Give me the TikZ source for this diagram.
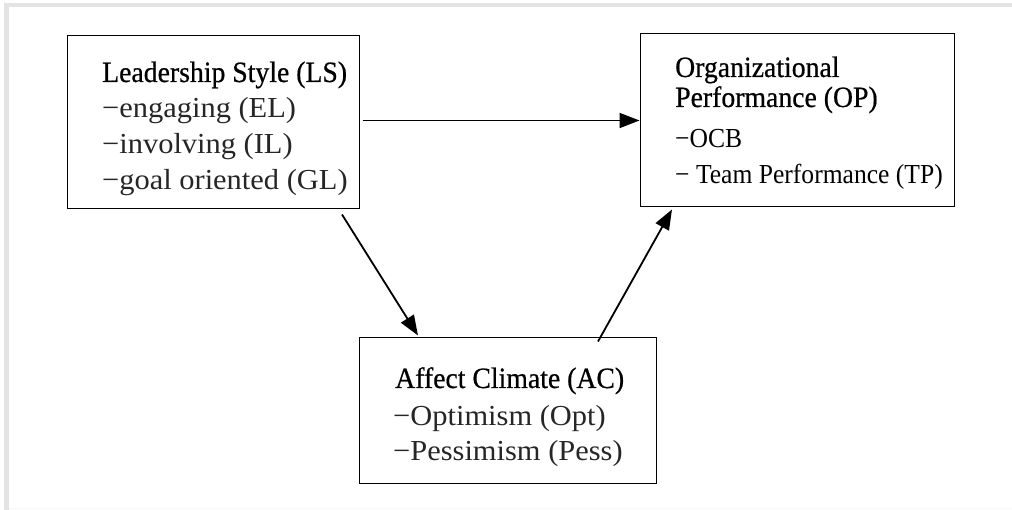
\documentclass[tikz,border=0pt]{standalone}
\usepackage{fontspec}
\setmainfont{Liberation Serif}
\newfontfamily\headfont[FakeBold=0.6,FakeStretch=0.94]{Liberation Serif}
\newfontfamily\itemfont[FakeStretch=1.05]{Liberation Serif}
\newfontfamily\narrowfont[FakeStretch=0.93]{Liberation Serif}
\usetikzlibrary{arrows.meta}

\begin{document}
\begin{tikzpicture}[x=1pt,y=-1pt,
  every node/.style={font=\fontsize{27}{30}\selectfont},
  box/.style={draw,line width=1pt,inner sep=0pt},
  txt/.style={anchor=base west,inner sep=0pt,font=\fontsize{29.5}{32}\headfont},
  itm/.style={anchor=base west,inner sep=0pt,text=black!85,font=\fontsize{29}{32}\itemfont},
  sub/.style={anchor=base west,inner sep=0pt,font=\fontsize{27.5}{30}\narrowfont},
  link/.style={line width=1.8pt,-{Triangle[length=20pt,width=15pt]}},
]
\useasboundingbox (0,0) rectangle (1012,510);

%% page frame
\fill[gray!22] (4,3) rectangle (1012,7);
\fill[gray!22] (4,3) rectangle (9,510);
\draw[gray!8,line width=1.5pt] (9,508.5) -- (1012,508.5);

%% boxes
\node[box,minimum width=292pt,minimum height=173pt] (ls) at (213,122.5) {};
\node[box,minimum width=314pt,minimum height=173pt] (op) at (797,120.5) {};
\node[box,minimum width=297pt,minimum height=145pt] (ac) at (507.5,410.5) {};

%% Leadership Style
\node[txt] (lsT) at (102,82)  {Leadership Style (LS)};
\node[itm] (lsE) at (102,118) {\textminus engaging (EL)};
\node[itm] (lsI) at (102,154) {\textminus involving (IL)};
\node[itm] (lsG) at (102,190) {\textminus goal oriented (GL)};

%% Organizational Performance
\node[txt] (opT) at (675,77)  {Organizational};
\node[txt] (opP) at (675,107) {Performance (OP)};
\node[sub] (opO) at (675,148) {\textminus OCB};
\node[sub] (opM) at (675,184) {\textminus\ Team Performance (TP)};

%% Affect Climate
\node[txt] (acT) at (395,388) {Affect Climate (AC)};
\node[itm] (acO) at (393,425) {\textminus Optimism (Opt)};
\node[itm] (acP) at (393,460) {\textminus Pessimism (Pess)};

%% paths
\draw[link] ([xshift=3pt]ls.east |- op.west) -- (op.west);
\draw[link] ([shift={(129pt,-5pt)}]ls.south) -- ([shift={(-89.5pt,2pt)}]ac.north);
\draw[link] ([shift={(90.5pt,-4pt)}]ac.north) -- ([shift={(-125pt,-2pt)}]op.south);

\end{tikzpicture}
\end{document}
